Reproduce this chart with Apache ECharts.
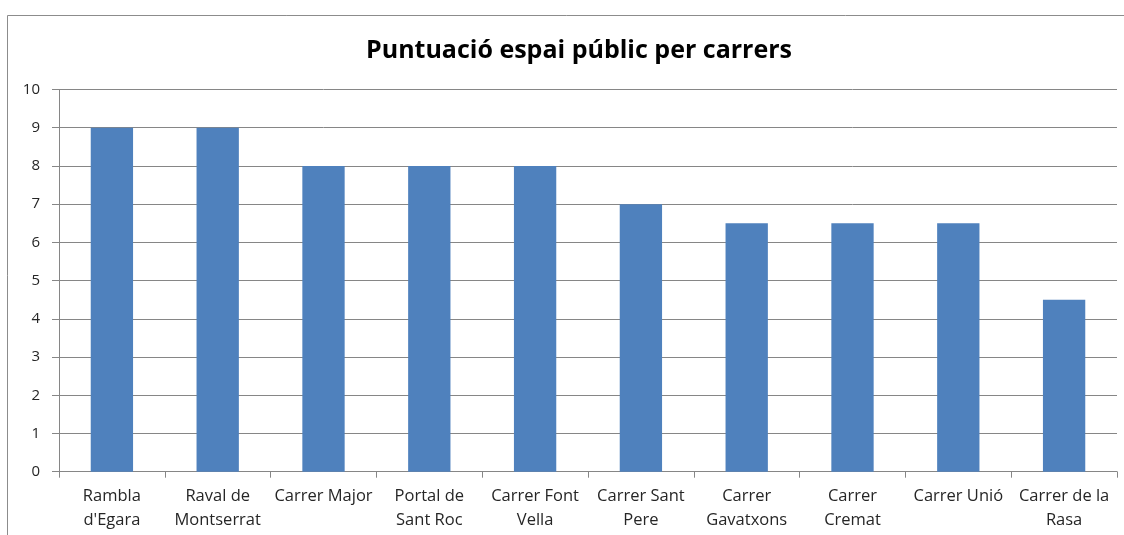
<!DOCTYPE html>
<html><head><meta charset="utf-8">
<script src="https://cdn.jsdelivr.net/npm/echarts@6/dist/echarts.min.js"></script>
<style>html,body{margin:0;padding:0;background:#fff}#c{width:1124px;height:535px}</style>
</head><body><div id="c"></div>
<script>
const title = "Puntuació espai públic per carrers";
const categories = ["Rambla\nd'Egara","Raval de\nMontserrat","Carrer Major","Portal de\nSant Roc","Carrer Font\nVella","Carrer Sant\nPere","Carrer\nGavatxons","Carrer\nCremat","Carrer Unió","Carrer de la\nRasa"];
const values = [9, 9, 8, 8, 8, 7, 6.5, 6.5, 6.5, 4.5];
const yTicks = {min: 0, max: 10, interval: 1};

const chart = echarts.init(document.getElementById('c'), null, {renderer: 'canvas'});
chart.setOption({
  animation: false,
  backgroundColor: '#fff',
  title: {
    text: title, left: 574, top: 33, textAlign: 'center',
    textStyle: {fontFamily: 'Open Sans', fontWeight: 'bold', fontSize: 25, color: '#000'}
  },
  graphic: [{
    type: 'polyline', silent: true,
    shape: {points: [[7.5, 540], [7.5, 15.5], [1130, 15.5]]},
    style: {stroke: '#8c8c8c', lineWidth: 1, fill: null}
  }],
  grid: {left: 59, right: 7, top: 89.5, bottom: 63.3, containLabel: false},
  xAxis: {
    type: 'category', data: categories,
    axisLine: {lineStyle: {color: '#868686'}},
    axisTick: {show: true, length: 6, alignWithLabel: false, lineStyle: {color: '#868686'}},
    axisLabel: {interval: 0, margin: 13, fontFamily: 'Open Sans', fontSize: 16.5, color: '#262626', lineHeight: 24}
  },
  yAxis: {
    type: 'value', min: yTicks.min, max: yTicks.max, interval: yTicks.interval,
    axisLine: {show: true, lineStyle: {color: '#868686'}},
    axisTick: {show: true, length: 7, lineStyle: {color: '#868686'}},
    splitLine: {lineStyle: {color: '#868686'}},
    axisLabel: {margin: 19, fontFamily: 'Open Sans', fontSize: 15, color: '#262626'}
  },
  series: [{
    type: 'bar', data: values, barWidth: '40%',
    itemStyle: {color: '#4f81bd'}
  }]
});
</script></body></html>
